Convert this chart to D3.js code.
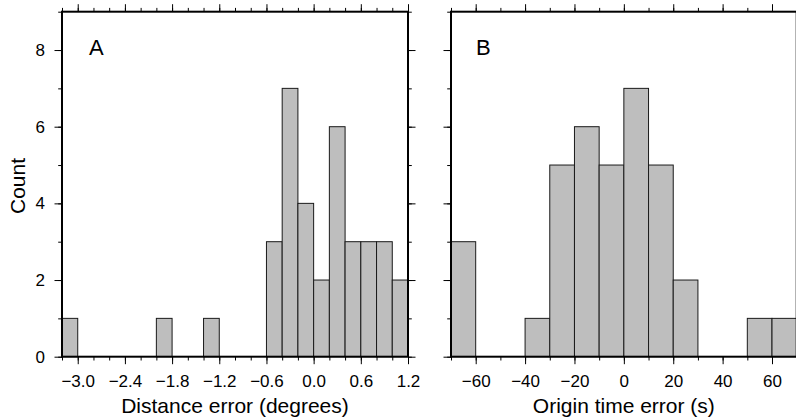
<!DOCTYPE html>
<html>
<head>
<meta charset="utf-8">
<script src="https://cdn.jsdelivr.net/npm/d3@7/dist/d3.min.js"></script>
<style>
  body { margin: 0; background: #fff; }
  svg { display: block; font-family: "Liberation Sans", Arial, Helvetica, sans-serif; }
</style>
</head>
<body>
<svg width="796" height="419"></svg>
<script>

// panel A: distance error, bins of 0.2 degrees (left edge of each bin)
var distBins = [-3.2, -3.0, -2.8, -2.6, -2.4, -2.2, -2.0, -1.8, -1.6, -1.4, -1.2,
                -1.0, -0.8, -0.6, -0.4, -0.2, 0.0, 0.2, 0.4, 0.6, 0.8, 1.0];
var distCounts = [1, 0, 0, 0, 0, 0, 1, 0, 0, 1, 0,
                  0, 0, 3, 7, 4, 2, 6, 3, 3, 3, 2];
var distTicks = [-3.0, -2.4, -1.8, -1.2, -0.6, 0.0, 0.6, 1.2];
var distMinor = [-3.2, -3.0, -2.8, -2.6, -2.4, -2.2, -2.0, -1.8, -1.6, -1.4, -1.2,
                 -1.0, -0.8, -0.6, -0.4, -0.2, 0.0, 0.2, 0.4, 0.6, 0.8, 1.0, 1.2];

// panel B: origin time error, bins of 10 s
var timeBins = [-70, -60, -50, -40, -30, -20, -10, 0, 10, 20, 30, 40, 50, 60];
var timeCounts = [3, 0, 0, 1, 5, 6, 5, 7, 5, 2, 0, 0, 1, 1];
var timeTicks = [-60, -40, -20, 0, 20, 40, 60];
var timeMinor = [-70, -60, -50, -40, -30, -20, -10, 0, 10, 20, 30, 40, 50, 60, 70];

var countTicks = [0, 2, 4, 6, 8];
var countMinor = [0, 1, 2, 3, 4, 5, 6, 7, 8, 9];

var svg = d3.select('svg');

var top_ = 11.7, bottom = 356.7;
var majorLen = 7.5, minorLen = 3.8;

var y = d3.scaleLinear()
    .domain([0, 9])
    .range([bottom, top_]);

function panel(opts) {
    var x = d3.scaleLinear()
        .domain(opts.domain)
        .range(opts.range);

    var g = svg.append('g');

    // bars
    var bins = opts.bins.map(function(b, i) {
        return { x0: b, x1: b + opts.width, n: opts.counts[i] };
    }).filter(function(d) { return d.n > 0; });

    g.selectAll('rect.bar')
        .data(bins)
        .enter().append('rect')
        .attr('class', 'bar')
        .attr('x', function(d) { return x(d.x0); })
        .attr('y', function(d) { return y(d.n); })
        .attr('width', function(d) { return x(d.x1) - x(d.x0); })
        .attr('height', function(d) { return y(0) - y(d.n); })
        .attr('fill', '#bebebe')
        .attr('stroke', '#1a1a1a')
        .attr('stroke-width', 1);

    // ticks, all pointing out of the frame
    function axis(gen, scale, vals, len, fmt, tr, pad) {
        var a = g.append('g')
            .attr('transform', tr)
            .call(gen(scale).tickValues(vals).tickSize(len).tickSizeOuter(0)
                .tickPadding(pad || 3).tickFormat(fmt || ''));
        a.select('.domain').remove();
        a.selectAll('line').attr('stroke', '#000').attr('stroke-width', 1);
        a.selectAll('text').attr('font-family', null).attr('font-size', 17).attr('fill', '#000');
        return a;
    }

    var r0 = opts.range[0], r1 = opts.range[1];
    axis(d3.axisBottom, x, opts.minor, minorLen, null, 'translate(0,' + bottom + ')');
    axis(d3.axisBottom, x, opts.ticks, majorLen, opts.fmt, 'translate(0,' + bottom + ')', 11);
    axis(d3.axisTop, x, opts.minor, minorLen, null, 'translate(0,' + top_ + ')');
    axis(d3.axisTop, x, opts.ticks, majorLen, null, 'translate(0,' + top_ + ')');

    axis(d3.axisLeft, y, countMinor, minorLen, null, 'translate(' + r0 + ',0)');
    axis(d3.axisLeft, y, countTicks, majorLen, opts.yLabels ? d3.format('d') : null,
         'translate(' + r0 + ',0)', 9.5);
    axis(d3.axisRight, y, countMinor, minorLen, null, 'translate(' + r1 + ',0)');
    axis(d3.axisRight, y, countTicks, majorLen, null, 'translate(' + r1 + ',0)');

    // frame
    g.append('rect')
        .attr('x', r0)
        .attr('y', top_)
        .attr('width', r1 - r0)
        .attr('height', bottom - top_)
        .attr('fill', 'none')
        .attr('stroke', '#000')
        .attr('stroke-width', 2);

    g.append('text')
        .attr('x', opts.letterX)
        .attr('y', 55)
        .attr('font-size', 22)
        .text(opts.letter);

    g.append('text')
        .attr('x', (r0 + r1) / 2)
        .attr('y', 413)
        .attr('text-anchor', 'middle')
        .attr('font-size', 21)
        .text(opts.title);
}

panel({
    domain: [-3.2, 1.2],
    range: [62, 408],
    bins: distBins,
    counts: distCounts,
    width: 0.2,
    ticks: distTicks,
    minor: distMinor,
    fmt: d3.format('.1f'),
    yLabels: true,
    letter: 'A',
    letterX: 89,
    title: 'Distance error (degrees)'
});

panel({
    domain: [-70, 70],
    range: [451, 796.7],
    bins: timeBins,
    counts: timeCounts,
    width: 10,
    ticks: timeTicks,
    minor: timeMinor,
    fmt: d3.format('d'),
    yLabels: false,
    letter: 'B',
    letterX: 476,
    title: 'Origin time error (s)'
});

svg.append('text')
    .attr('transform', 'translate(24.5,186) rotate(-90)')
    .attr('text-anchor', 'middle')
    .attr('font-size', 21)
    .text('Count');

</script>
</body>
</html>
